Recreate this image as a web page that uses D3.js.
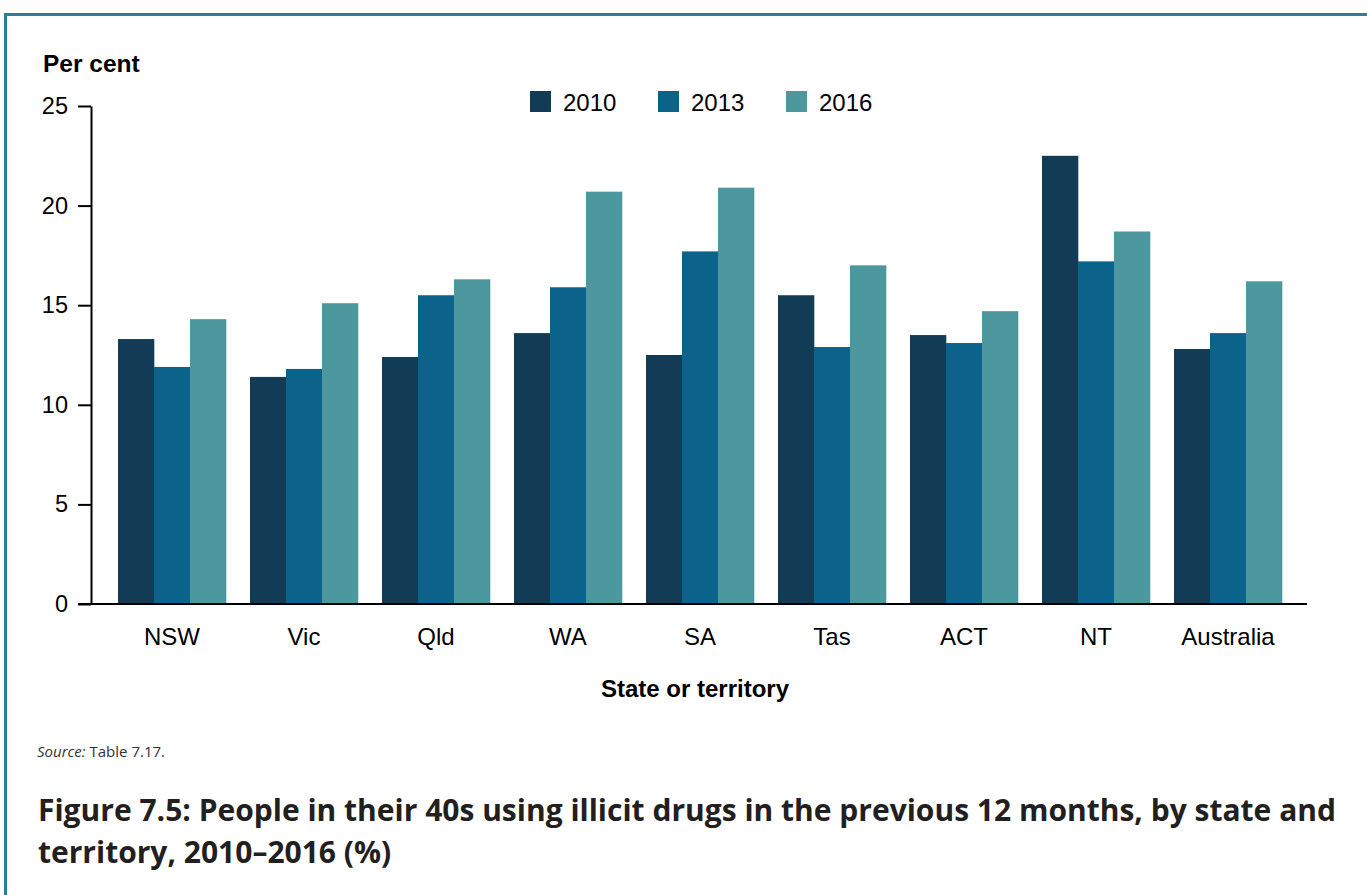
<!DOCTYPE html>
<html>
<head>
<meta charset="utf-8">
<script src="https://cdn.jsdelivr.net/npm/d3@7"></script>
<style>
  html, body { margin: 0; padding: 0; background: #fff; }
  svg { display: block; }
</style>
</head>
<body>
<svg id="chart" width="1367" height="895"></svg>
<script>
const categories = ["NSW", "Vic", "Qld", "WA", "SA", "Tas", "ACT", "NT", "Australia"];
const seriesNames = ["2010", "2013", "2016"];
const values2010 = [13.3, 11.4, 12.4, 13.6, 12.5, 15.5, 13.5, 22.5, 12.8];
const values2013 = [11.9, 11.8, 15.5, 15.9, 17.7, 12.9, 13.1, 17.2, 13.6];
const values2016 = [14.3, 15.1, 16.3, 20.7, 20.9, 17.0, 14.7, 18.7, 16.2];
const yTicks = [0, 5, 10, 15, 20, 25];
const colors = ["#123c56", "#0b628a", "#4c989e"];

const svg = d3.select("#chart");
const series = [values2010, values2013, values2016];
const sans = "'Liberation Sans', Arial, sans-serif";

// frame
svg.append("line").attr("x1", 5.5).attr("x2", 1367).attr("y1", 14.5).attr("y2", 14.5)
  .attr("stroke", "#2a7f98").attr("stroke-width", 3);
svg.append("line").attr("x1", 5.5).attr("x2", 5.5).attr("y1", 13).attr("y2", 895)
  .attr("stroke", "#2a7f98").attr("stroke-width", 3);

const axisLeft = 91, axisRight = 1307;
const y = d3.scaleLinear().domain([0, 25]).range([604, 106]);
const x0 = d3.scaleBand().domain(categories).range([106, 1294])
  .paddingInner(24 / 132).paddingOuter(12 / 132);
const x1 = d3.scaleBand().domain(seriesNames).range([0, x0.bandwidth()]);

// bars
const groups = svg.append("g").selectAll("g").data(categories).join("g")
  .attr("transform", d => `translate(${x0(d)},0)`);
groups.selectAll("rect")
  .data((c, i) => seriesNames.map((s, j) => ({ s, v: series[j][i], j })))
  .join("rect")
  .attr("x", d => x1(d.s))
  .attr("width", x1.bandwidth() + 0.3)
  .attr("y", d => y(d.v))
  .attr("height", d => y(0) - y(d.v))
  .attr("fill", d => colors[d.j]);

// y axis
const yAxis = svg.append("g").attr("transform", `translate(${axisLeft},0)`)
  .call(d3.axisLeft(y).tickValues(yTicks).tickSize(13).tickSizeOuter(0).tickPadding(10));
yAxis.select(".domain").attr("stroke", "#000").attr("stroke-width", 2);
yAxis.selectAll(".tick line").attr("stroke", "#000").attr("stroke-width", 2);
yAxis.selectAll(".tick text").attr("font-family", sans)
  .attr("font-size", 23.5).attr("fill", "#000");

// x axis
const xAxis = svg.append("g").attr("transform", `translate(0,${y(0)})`)
  .call(d3.axisBottom(x0).tickSize(0).tickPadding(24));
xAxis.select(".domain").remove();
svg.append("line").attr("x1", 78).attr("x2", axisRight).attr("y1", y(0)).attr("y2", y(0))
  .attr("stroke", "#000").attr("stroke-width", 2);
xAxis.selectAll(".tick text").attr("font-family", sans)
  .attr("font-size", 24).attr("fill", "#000");

// axis titles
svg.append("text").attr("x", 43).attr("y", 72).text("Per cent")
  .attr("font-family", sans).attr("font-weight", "bold")
  .attr("font-size", 24.5).attr("fill", "#000");
svg.append("text").attr("x", 695).attr("y", 697).text("State or territory")
  .attr("text-anchor", "middle")
  .attr("font-family", sans).attr("font-weight", "bold")
  .attr("font-size", 24).attr("fill", "#000");

// legend
const legend = svg.append("g").selectAll("g").data(seriesNames).join("g")
  .attr("transform", (d, i) => `translate(${530 + i * 128},91)`);
legend.append("rect").attr("width", 21).attr("height", 21).attr("fill", (d, i) => colors[i]);
legend.append("text").attr("x", 33).attr("y", 20).text(d => d)
  .attr("font-family", sans).attr("font-size", 24).attr("fill", "#000");

// source
const src = svg.append("text").attr("x", 37).attr("y", 757)
  .attr("font-family", "'Open Sans', 'Noto Sans', sans-serif").attr("font-size", 15).attr("fill", "#333");
src.append("tspan").attr("font-style", "italic").text("Source:");
src.append("tspan").text(" Table 7.17.");

// title
const title = svg.append("text").attr("font-family", "'Open Sans', 'Noto Sans', sans-serif")
  .attr("font-weight", "bold").attr("font-size", 30).attr("fill", "#231f20");
title.append("tspan").attr("x", 38).attr("y", 821)
  .text("Figure 7.5: People in their 40s using illicit drugs in the previous 12 months, by state and");
title.append("tspan").attr("x", 38).attr("y", 863).text("territory, 2010–2016 (%)");
</script>
</body>
</html>
